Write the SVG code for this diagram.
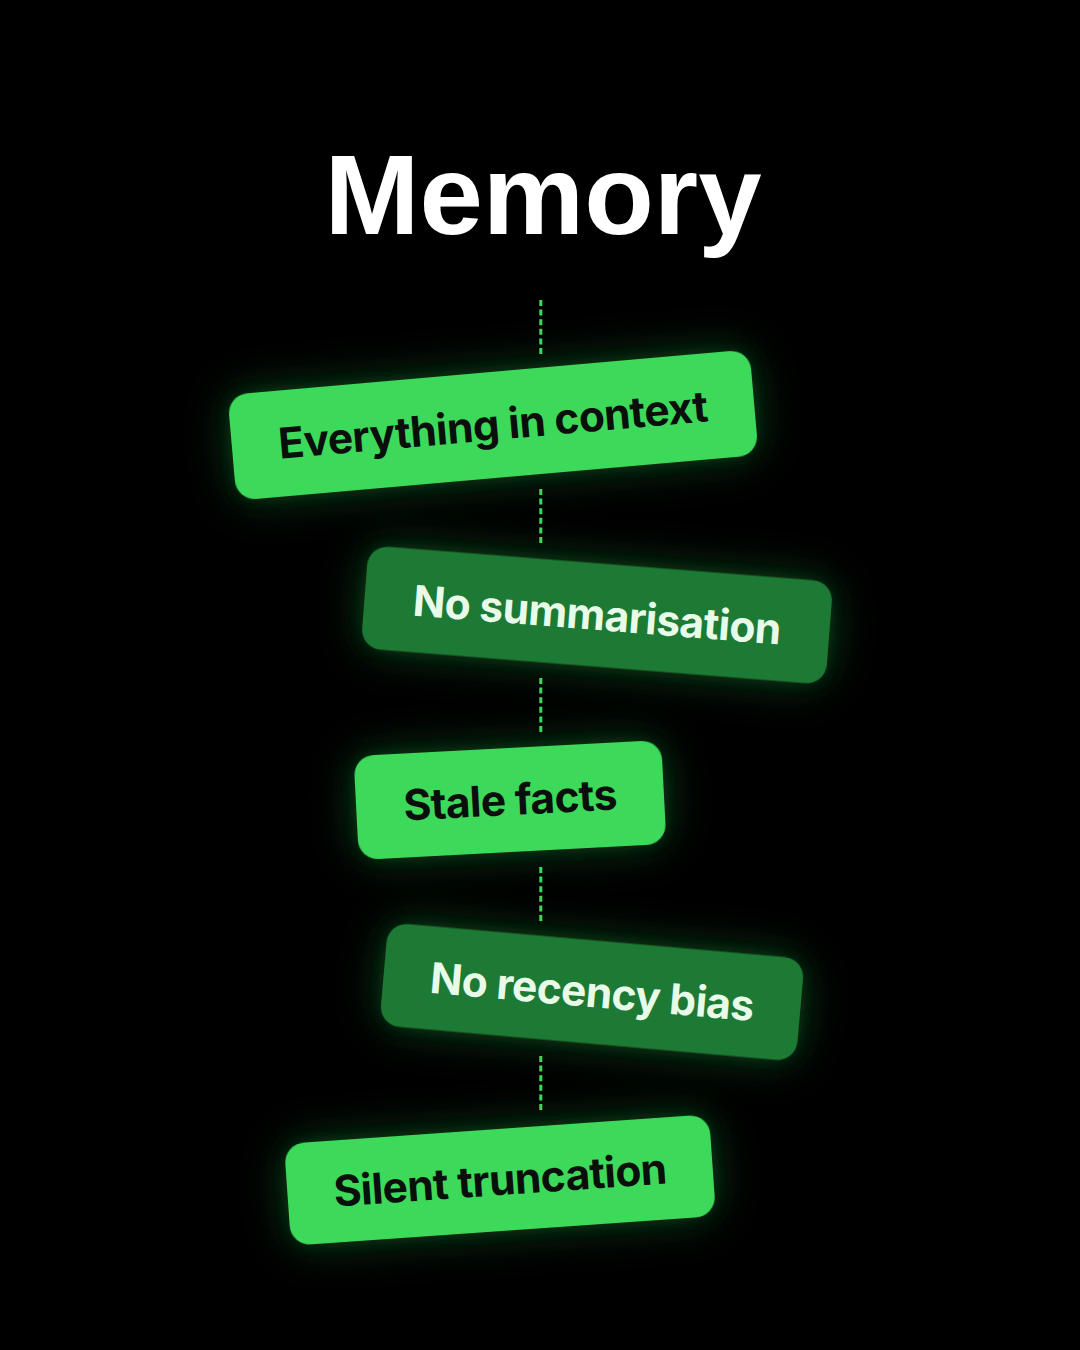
<svg xmlns="http://www.w3.org/2000/svg" width="1080" height="1350" viewBox="0 0 1080 1350">
  <defs>
    <filter id="glow" x="-40%" y="-100%" width="180%" height="300%">
      <feGaussianBlur in="SourceAlpha" stdDeviation="22" result="b"/>
      <feFlood flood-color="#3ed95a" flood-opacity="0.3"/>
      <feComposite in2="b" operator="in" result="g"/>
      <feGaussianBlur in="SourceAlpha" stdDeviation="8" result="b2"/>
      <feFlood flood-color="#3ed95a" flood-opacity="0.1"/>
      <feComposite in2="b2" operator="in" result="g2"/>
      <feMerge>
        <feMergeNode in="g"/>
        <feMergeNode in="g2"/>
        <feMergeNode in="SourceGraphic"/>
      </feMerge>
    </filter>
  </defs>
  <style>
    .light { fill: #3ed95a; }
    .dark { fill: #1f7a36; }
    .lt { font-family: Inter, "Liberation Sans", sans-serif; font-weight: 700; font-size: 42.5px; fill: #0a0f0b; text-anchor: middle; letter-spacing: -0.6px; }
    .dt { font-family: Inter, "Liberation Sans", sans-serif; font-weight: 700; font-size: 42.5px; fill: #e8fbe8; text-anchor: middle; letter-spacing: -0.6px; }
    .conn { stroke: #3ed95a; stroke-width: 3; stroke-dasharray: 6 3.6; fill: none; }
    .title { font-family: "Liberation Sans", Arial, sans-serif; font-weight: 700; font-size: 114px; fill: #ffffff; text-anchor: middle; }
  </style>
  <rect width="1080" height="1350" fill="#000000"/>
  <text class="title" x="543" y="234">Memory</text>
  <g id="connectors">
    <line class="conn" x1="540.8" y1="300" x2="540.8" y2="354"/>
    <line class="conn" x1="540.8" y1="489" x2="540.8" y2="543"/>
    <line class="conn" x1="540.8" y1="678" x2="540.8" y2="732"/>
    <line class="conn" x1="540.8" y1="867" x2="540.8" y2="921"/>
    <line class="conn" x1="540.8" y1="1056" x2="540.8" y2="1110"/>
  </g>
  <g id="node-everything" transform="translate(493,425) rotate(-5)">
    <rect class="light" x="-262" y="-53" width="524" height="106" rx="20" filter="url(#glow)"/>
    <text class="lt" x="0" y="15">Everything in context</text>
  </g>
  <g id="node-summarisation" transform="translate(597,615) rotate(4.5)">
    <rect class="dark" x="-233" y="-51.5" width="466" height="103" rx="20" filter="url(#glow)"/>
    <text class="dt" x="0" y="15">No summarisation</text>
  </g>
  <g id="node-stale" transform="translate(510,800) rotate(-3)">
    <rect class="light" x="-154" y="-52" width="308" height="104" rx="20" filter="url(#glow)"/>
    <text class="lt" x="0" y="15">Stale facts</text>
  </g>
  <g id="node-recency" transform="translate(592,992) rotate(5)">
    <rect class="dark" x="-209" y="-51.5" width="418" height="103" rx="20" filter="url(#glow)"/>
    <text class="dt" x="0" y="15">No recency bias</text>
  </g>
  <g id="node-truncation" transform="translate(500,1180) rotate(-4)">
    <rect class="light" x="-213" y="-51" width="426" height="102" rx="20" filter="url(#glow)"/>
    <text class="lt" x="0" y="15">Silent truncation</text>
  </g>
</svg>
